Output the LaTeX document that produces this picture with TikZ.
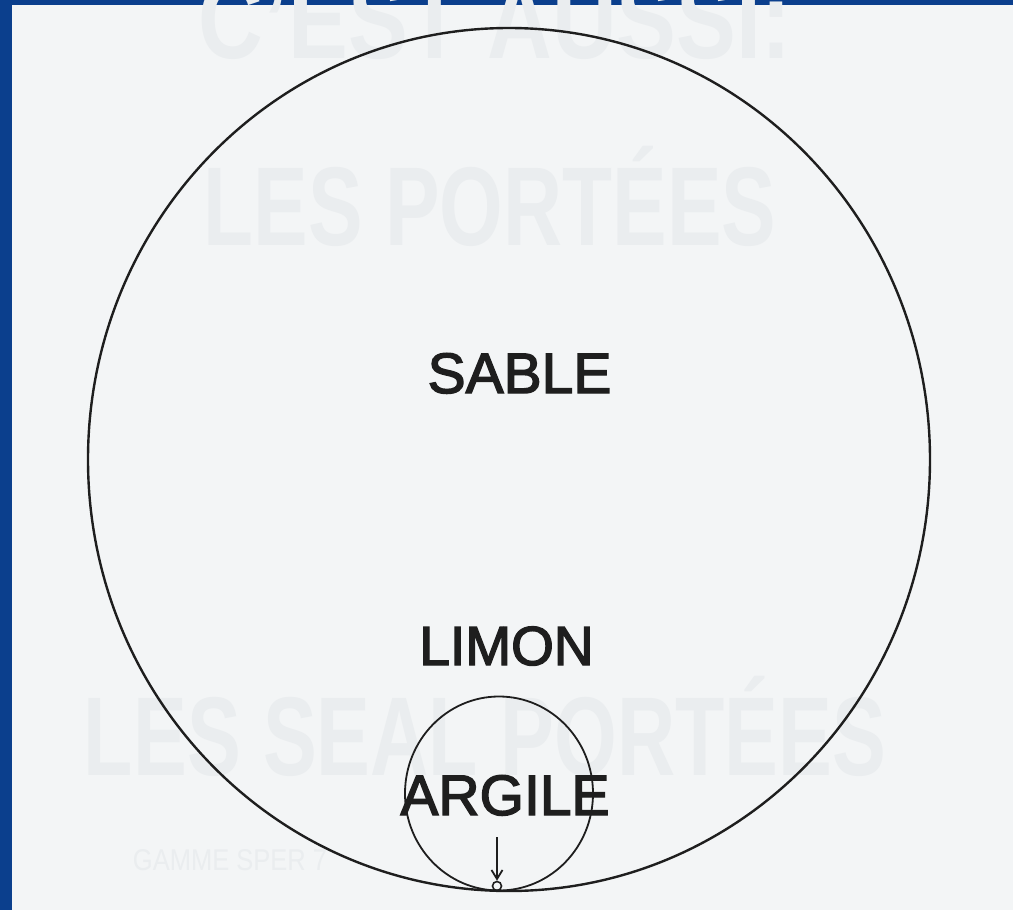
\documentclass[tikz,border=0pt]{standalone}
\usepackage{fontspec}
\setmainfont{Liberation Sans}
\newfontfamily\labelfont{Liberation Sans}[FakeBold=2.5]
\usetikzlibrary{arrows.meta}
\definecolor{paper}{HTML}{F3F5F6}
\definecolor{frameblue}{HTML}{0B3F8D}
\definecolor{ink}{HTML}{1E1E1E}
\definecolor{ghost}{HTML}{EAEDEF}
\tikzset{
  label text/.style={anchor=base, text=ink, inner sep=0pt, font=\labelfont\fontsize{57}{60}\selectfont},
  ghost text/.style={anchor=base, text=ghost, inner sep=0pt, font=\bfseries\fontsize{112}{115}\selectfont},
  outline/.style={draw=ink, line width=2.4pt},
}
\begin{document}
\begin{tikzpicture}[x=1pt,y=-1pt]
\useasboundingbox (0,0) rectangle (1013,910);
% frame and paper
\fill[frameblue] (0,0) rectangle (1013,910);
\fill[paper] (12,5) rectangle (1013,910);
% faint bleed-through text
\node[ghost text, xscale=0.8] (g1) at (495,58) {C'EST AUSSI:};
\node[ghost text, xscale=0.73] (g2) at (490,245) {LES PORTÉES};
\node[ghost text, xscale=0.72] (g3) at (485,775) {LES SEAL PORTÉES};
\node[anchor=base, text=ghost, inner sep=0pt, font=\fontsize{30}{32}\selectfont, xscale=0.85] (g4) at (230,870) {GAMME SPER 7};
% circles
\draw[outline] (509,459.5) ellipse [x radius=421pt, y radius=431.5pt];
\draw[outline, line width=1.8pt] (499,793.5) ellipse [x radius=94pt, y radius=97pt];
% labels
\node[label text] (sable) at (519.5,393) {SABLE};
\node[label text, font=\labelfont\fontsize{55}{58}\selectfont] (limon) at (506.5,665) {LIMON};
\node[label text] (argile) at (505,815) {ARGILE};
% arrow and pore
\node[circle, draw=ink, line width=1.6pt, minimum size=9pt, inner sep=0pt] (pore) at (497,886) {};
\coordinate (atop) at (497,837);
\draw[ink, line width=1.8pt, -{Straight Barb[length=9pt,width=11pt]}] (atop) -- (pore.north);
\end{tikzpicture}
\end{document}
